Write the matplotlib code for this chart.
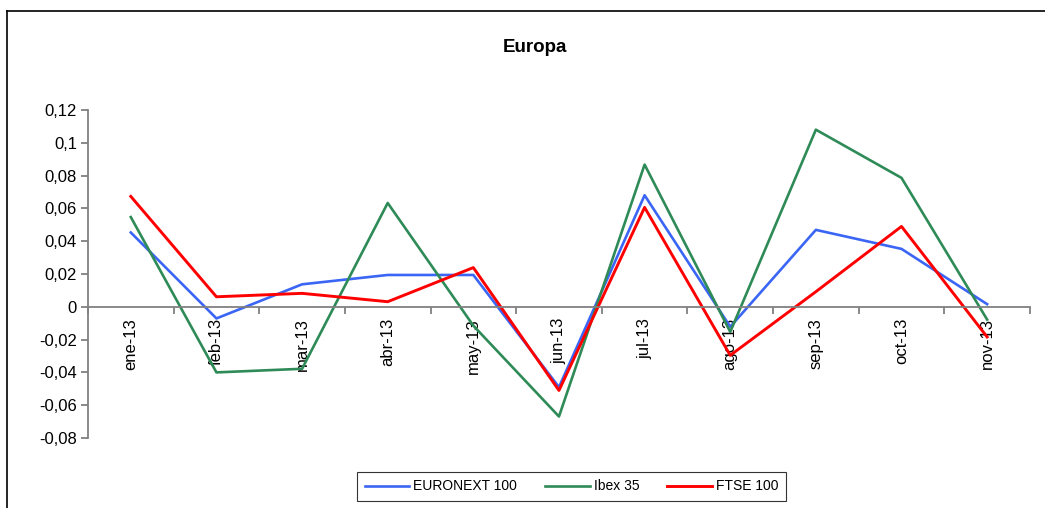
import matplotlib.pyplot as plt
import numpy as np

plt.rcParams['font.family'] = ['Liberation Sans', 'DejaVu Sans']

months = ['ene-13', 'feb-13', 'mar-13', 'abr-13', 'may-13', 'jun-13',
          'jul-13', 'ago-13', 'sep-13', 'oct-13', 'nov-13']
euronext = [0.0453, -0.0071, 0.0137, 0.0194, 0.0194, -0.0490,
            0.0680, -0.0122, 0.0469, 0.0353, 0.0016]
ibex = [0.0547, -0.0400, -0.0378, 0.0633, -0.0115, -0.0669,
        0.0867, -0.0153, 0.1080, 0.0786, -0.0078]
ftse = [0.0673, 0.0061, 0.0082, 0.0031, 0.0239, -0.0510,
        0.0606, -0.0296, 0.0092, 0.0490, -0.0184]
yticks = [0.12, 0.1, 0.08, 0.06, 0.04, 0.02, 0, -0.02, -0.04, -0.06, -0.08]
ytick_labels = ['0,12', '0,1', '0,08', '0,06', '0,04', '0,02', '0',
                '-0,02', '-0,04', '-0,06', '-0,08']

fig = plt.figure(figsize=(10.45, 5.08), dpi=100)
ax = fig.add_axes((0.0842, 0.1378, 0.9014, 0.6457))

x = np.arange(len(months))
ax.plot(x, euronext, color='#3b66f5', lw=1.9, label='EURONEXT 100')
ax.plot(x, ibex, color='#2e8b57', lw=1.9, label='Ibex 35')
ax.plot(x, ftse, color='#ff0000', lw=2.1, label='FTSE 100')

ax.set_xlim(-0.5, len(months) - 0.5)
ax.set_ylim(-0.08, 0.12)

# axes styling: Excel-like, x axis crossing at zero
ax.spines[['top', 'right']].set_visible(False)
ax.spines['bottom'].set_position(('data', 0))
for s in ['left', 'bottom']:
    ax.spines[s].set_color('#808080')
    ax.spines[s].set_linewidth(1.3)

ax.set_yticks(yticks)
ax.set_yticklabels(ytick_labels, fontsize=12)
ax.tick_params(axis='y', direction='out', length=5, color='#808080', width=1.3, pad=3)

# boundary ticks as major (no labels), category labels on minor
ax.set_xticks(np.arange(-0.5, len(months), 1.0))
ax.set_xticklabels([])
ax.set_xticks(x, minor=True)
ax.set_xticklabels(months, minor=True, rotation=90, fontsize=12)
ax.tick_params(axis='x', which='major', direction='out', length=5,
               color='#808080', width=1.3)
ax.tick_params(axis='x', which='minor', length=0, pad=8)

fig.text(534.5 / 1045, 1 - 47 / 508, 'Europa', fontsize=13.5,
         fontweight='bold', ha='center', va='center')

leg = ax.legend(loc='center', bbox_to_anchor=(571.5 / 1045, 1 - 486.5 / 508),
                bbox_transform=fig.transFigure, ncol=3, fontsize=10,
                frameon=True, fancybox=False, edgecolor='black',
                handlelength=3.2, columnspacing=2.0, borderpad=0.55,
                handletextpad=0.3)
leg.get_frame().set_linewidth(0.8)

# chart area border (left and top visible)
fig.add_artist(plt.Line2D([7 / 1045, 7 / 1045], [0, 1 - 11 / 508],
                          color='black', lw=1.2, transform=fig.transFigure))
fig.add_artist(plt.Line2D([7 / 1045, 1], [1 - 11 / 508, 1 - 11 / 508],
                          color='black', lw=1.2, transform=fig.transFigure))

fig.savefig('out.png', dpi=100)
